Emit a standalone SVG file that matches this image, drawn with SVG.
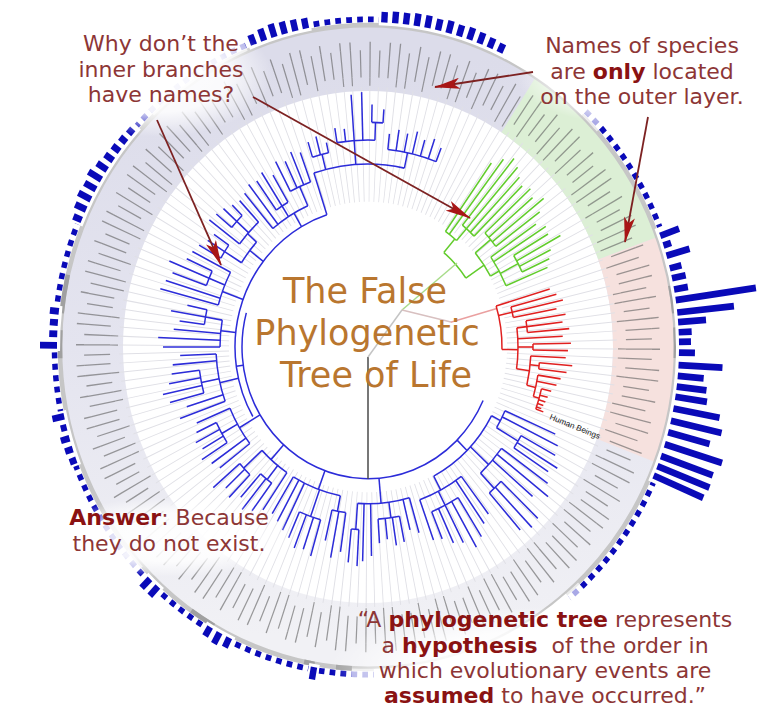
<svg xmlns="http://www.w3.org/2000/svg" width="777" height="719" viewBox="0 0 777 719">
<style>
.b{fill:none;stroke:#2c2cd9;stroke-width:1.5}
.g{fill:none;stroke:#62cc2c;stroke-width:1.5}
.r{fill:none;stroke:#e02020;stroke-width:1.5}
.bars rect{fill:#0a0ab8}
.cov{fill:none;stroke:#fff;stroke-width:11}
.fade{fill:none;stroke:#fff;stroke-opacity:.65;stroke-width:11}
.gr{fill:none;stroke:#a0a0a0;stroke-width:4.5}
.t{font-family:"DejaVu Sans",Verdana,sans-serif;font-size:22px;fill:#8d3636;text-anchor:middle}
.k{font-weight:bold;fill:#8a1212}
.title{font-family:"DejaVu Sans",Verdana,sans-serif;font-size:35px;fill:#b9762f;text-anchor:middle}
.arr{stroke:#7d2222;stroke-width:1.8;fill:none;marker-end:url(#ah)}
</style>
<defs>
<linearGradient id="bandg" x1="0" y1="0" x2="0" y2="1">
<stop offset="0" stop-color="#dcdcea"/><stop offset=".5" stop-color="#e4e4ef"/><stop offset="1" stop-color="#f1f1f5"/>
</linearGradient>
<radialGradient id="glow">
<stop offset="0" stop-color="#fff" stop-opacity=".95"/><stop offset=".6" stop-color="#fff" stop-opacity=".85"/><stop offset="1" stop-color="#fff" stop-opacity="0"/>
</radialGradient>
<marker id="ah" viewBox="0 0 26 11" refX="25" refY="5.5" markerWidth="26" markerHeight="11" markerUnits="userSpaceOnUse" orient="auto">
<path d="M0 0L26 5.5L0 11L6 5.5Z" fill="#a81616"/>
</marker>
</defs>
<rect width="777" height="719" fill="#fff"/>
<g id="ring" transform="translate(368 347) scale(1 1.045)">
<circle r="276.5" fill="none" stroke="url(#bandg)" stroke-width="63"/>
<circle r="276.5" fill="none" stroke="#dcefd5" stroke-width="63" pathLength="360" stroke-dasharray="37 360" transform="rotate(-57)"/>
<circle r="276.5" fill="none" stroke="#f6e1de" stroke-width="63" pathLength="360" stroke-dasharray="41 360" transform="rotate(-20)"/>
<g transform="rotate(0.3)" fill="none">
<circle r="194" stroke="#e0e0e6" stroke-width="110" pathLength="360" stroke-dasharray="0.26 1.74"/>
<circle r="271" stroke="#5e5e5e" stroke-opacity=".6" stroke-width="26" pathLength="360" stroke-dasharray="0.26 1.74"/>
<circle r="254" stroke="#5e5e5e" stroke-opacity=".6" stroke-width="8" pathLength="360" stroke-dasharray="0.26 1.74 0.26 1.74 0 2 0.26 1.74 0 2 0 2"/>
<circle r="288" stroke="#5e5e5e" stroke-opacity=".6" stroke-width="8" pathLength="360" stroke-dasharray="0.26 1.74 0 2 0.26 1.74 0.26 1.74 0 2"/>
</g>
<circle r="308" fill="none" stroke="#c6c6c6" stroke-width="4.5"/>
<g class="gr">
<circle r="308" pathLength="360" stroke-dasharray="5 360" transform="rotate(178)"/>
<circle r="308" pathLength="360" stroke-dasharray="7 360" transform="rotate(186)"/>
<circle r="308" pathLength="360" stroke-dasharray="5 360" transform="rotate(-11)"/>
<circle r="308" pathLength="360" stroke-dasharray="5.5 360" transform="rotate(-3.5)"/>
<circle r="308" pathLength="360" stroke-dasharray="5 360" transform="rotate(120)"/>
<circle r="308" pathLength="360" stroke-dasharray="2 360" transform="rotate(100)"/>
<circle r="308" pathLength="360" stroke-dasharray="3 360" transform="rotate(93)"/>
</g>
<circle r="313.5" fill="none" stroke="#0a0ab8" stroke-width="5.5" pathLength="360" stroke-dasharray="1.05 0.95"/>
<g class="cov">
<circle r="313.5" pathLength="360" stroke-dasharray="18 360" transform="rotate(296)"/>
<circle r="313.5" pathLength="360" stroke-dasharray="39 360" transform="rotate(50)"/>
<circle r="313.5" pathLength="360" stroke-dasharray="46 360" transform="rotate(-21.5)"/>
<circle r="313.5" pathLength="360" stroke-dasharray="20.5 360" transform="rotate(202)"/>
<circle r="313.5" pathLength="360" stroke-dasharray="12 360" transform="rotate(247.5)"/>
<circle r="313.5" pathLength="360" stroke-dasharray="24.5 360" transform="rotate(272)"/>
<circle r="313.5" pathLength="360" stroke-dasharray="2 360" transform="rotate(99)"/>
<circle r="313.5" pathLength="360" stroke-dasharray="6 360" transform="rotate(115.5)"/>
<circle r="313.5" pathLength="360" stroke-dasharray="4 360" transform="rotate(131.5)"/>
<circle r="313.5" pathLength="360" stroke-dasharray="10 360" transform="rotate(158.7)"/>
<circle r="313.5" pathLength="360" stroke-dasharray="8 360" transform="rotate(179.3)"/>
</g>
<g class="fade">
<circle r="313.5" pathLength="360" stroke-dasharray="21 360" transform="rotate(226)"/>
<circle r="313.5" pathLength="360" stroke-dasharray="4 360" transform="rotate(314)"/>
<circle r="313.5" pathLength="360" stroke-dasharray="3 360" transform="rotate(47)"/>
<circle r="313.5" pathLength="360" stroke-dasharray="4 360" transform="rotate(89)"/>
<circle r="313.5" pathLength="360" stroke-dasharray="4 360" transform="rotate(137)"/>
</g>
<g id="bars" class="bars">
<rect x="311" y="-3.2" height="6.4" width="9" transform="rotate(203)"/><rect x="311" y="-3.2" height="6.4" width="12" transform="rotate(205)"/><rect x="311" y="-3.2" height="6.4" width="14" transform="rotate(207)"/><rect x="311" y="-3.2" height="6.4" width="13" transform="rotate(209)"/><rect x="311" y="-3.2" height="6.4" width="15" transform="rotate(211)"/><rect x="311" y="-3.2" height="6.4" width="12" transform="rotate(213)"/><rect x="311" y="-3.2" height="6.4" width="10" transform="rotate(215)"/><rect x="311" y="-3.2" height="6.4" width="9" transform="rotate(217)"/><rect x="311" y="-3.2" height="6.4" width="8" transform="rotate(219)"/><rect x="311" y="-3.2" height="6.4" width="7" transform="rotate(221)"/>
<rect x="311" y="-3.2" height="6.4" width="10" transform="rotate(248.5)"/><rect x="311" y="-3.2" height="6.4" width="12" transform="rotate(250.5)"/><rect x="311" y="-3.2" height="6.4" width="13" transform="rotate(252.5)"/><rect x="311" y="-3.2" height="6.4" width="12" transform="rotate(254.5)"/><rect x="311" y="-3.2" height="6.4" width="11" transform="rotate(256.5)"/><rect x="311" y="-3.2" height="6.4" width="10" transform="rotate(258.5)"/>
<rect x="311" y="-3.2" height="6.4" width="10" transform="rotate(273)"/><rect x="311" y="-3.2" height="6.4" width="11" transform="rotate(275)"/><rect x="311" y="-3.2" height="6.4" width="11" transform="rotate(277)"/><rect x="311" y="-3.2" height="6.4" width="12" transform="rotate(279)"/><rect x="311" y="-3.2" height="6.4" width="12" transform="rotate(281)"/><rect x="311" y="-3.2" height="6.4" width="11" transform="rotate(283)"/><rect x="311" y="-3.2" height="6.4" width="12" transform="rotate(285)"/><rect x="311" y="-3.2" height="6.4" width="11" transform="rotate(287)"/><rect x="311" y="-3.2" height="6.4" width="12" transform="rotate(289)"/><rect x="311" y="-3.2" height="6.4" width="11" transform="rotate(291)"/><rect x="311" y="-3.2" height="6.4" width="10" transform="rotate(293)"/><rect x="311" y="-3.2" height="6.4" width="9" transform="rotate(295)"/>
<rect x="311" y="-3.2" height="6.4" width="20" transform="rotate(-20)"/><rect x="311" y="-3.2" height="6.4" width="8" transform="rotate(-18.2)"/><rect x="311" y="-3.2" height="6.4" width="24" transform="rotate(-16.3)"/><rect x="311" y="-3.2" height="6.4" width="12" transform="rotate(-14)"/><rect x="311" y="-3.2" height="6.4" width="14" transform="rotate(-12.2)"/><rect x="311" y="-3.2" height="6.4" width="14" transform="rotate(-10.2)"/><rect x="311" y="-3.2" height="6.4" width="81" transform="rotate(-8.3)"/><rect x="311" y="-3.2" height="6.4" width="57" transform="rotate(-6.1)"/><rect x="311" y="-3.2" height="6.4" width="28" transform="rotate(-4.4)"/><rect x="311" y="-3.2" height="6.4" width="13" transform="rotate(-2.6)"/><rect x="311" y="-3.2" height="6.4" width="12" transform="rotate(-0.9)"/><rect x="311" y="-3.2" height="6.4" width="16" transform="rotate(1)"/><rect x="311" y="-3.2" height="6.4" width="44" transform="rotate(3.2)"/><rect x="311" y="-3.2" height="6.4" width="26" transform="rotate(5.1)"/><rect x="311" y="-3.2" height="6.4" width="30" transform="rotate(7)"/><rect x="311" y="-3.2" height="6.4" width="32" transform="rotate(8.8)"/><rect x="311" y="-3.2" height="6.4" width="47" transform="rotate(10.9)"/><rect x="311" y="-3.2" height="6.4" width="52" transform="rotate(13.1)"/><rect x="311" y="-3.2" height="6.4" width="43" transform="rotate(15.2)"/><rect x="311" y="-3.2" height="6.4" width="60" transform="rotate(17.4)"/><rect x="311" y="-3.2" height="6.4" width="55" transform="rotate(19.6)"/><rect x="311" y="-3.2" height="6.4" width="56" transform="rotate(21.5)"/><rect x="311" y="-3.2" height="6.4" width="54" transform="rotate(23.3)"/>
<rect x="311" y="-3.2" height="6.4" width="12" transform="rotate(100)"/><rect x="311" y="-3.2" height="6.4" width="10" transform="rotate(116.5)"/><rect x="311" y="-3.2" height="6.4" width="12" transform="rotate(118.5)"/><rect x="311" y="-3.2" height="6.4" width="10" transform="rotate(120.5)"/><rect x="311" y="-3.2" height="6.4" width="12" transform="rotate(132.5)"/><rect x="311" y="-3.2" height="6.4" width="12" transform="rotate(134.5)"/>
<rect x="311" y="-3.2" height="6.4" width="7" transform="rotate(159.7)"/><rect x="311" y="-3.2" height="6.4" width="8" transform="rotate(161.7)"/><rect x="311" y="-3.2" height="6.4" width="9" transform="rotate(163.7)"/><rect x="311" y="-3.2" height="6.4" width="6" transform="rotate(165.7)"/><rect x="311" y="-3.2" height="6.4" width="12" transform="rotate(167.7)"/><rect x="311" y="-3.2" height="6.4" width="17" transform="rotate(180.3)"/><rect x="311" y="-3.2" height="6.4" width="8" transform="rotate(182.3)"/><rect x="311" y="-3.2" height="6.4" width="8" transform="rotate(184.3)"/><rect x="311" y="-3.2" height="6.4" width="9" transform="rotate(186.3)"/>
</g>
</g>
<g id="tree" transform="translate(368 347) scale(1 1.045)">
<g id="clade-blue" class="b">
<circle r="126" pathLength="360" stroke-dasharray="171 360" transform="rotate(24)"/>
<circle r="133" pathLength="360" stroke-dasharray="102 360" transform="rotate(150)"/>
<path transform="rotate(172)" d="M126 0H133"/>
<path transform="rotate(45)" d="M126 0H140"/><circle r="140" pathLength="360" stroke-dasharray="34 360" transform="rotate(28)"/>
<path transform="rotate(28)" d="M140 0H150"/><circle r="150" pathLength="360" stroke-dasharray="7 360" transform="rotate(24)"/><path transform="rotate(24)" d="M150 0H205"/><path transform="rotate(26.5)" d="M150 0H212"/>
<path transform="rotate(31)" d="M150 0H175"/><circle r="175" pathLength="360" stroke-dasharray="4.5 360" transform="rotate(29)"/><path transform="rotate(29)" d="M175 0H214"/><path transform="rotate(31.5)" d="M175 0H222"/><path transform="rotate(33.5)" d="M175 0H216"/>
<path transform="rotate(43)" d="M140 0H165"/><circle r="165" pathLength="360" stroke-dasharray="11 360" transform="rotate(36)"/><path transform="rotate(36)" d="M165 0H222"/><path transform="rotate(38.5)" d="M165 0H230"/><path transform="rotate(41)" d="M165 0H218"/>
<path transform="rotate(47)" d="M165 0H185"/><circle r="185" pathLength="360" stroke-dasharray="5 360" transform="rotate(44)"/><path transform="rotate(44)" d="M185 0H236"/><path transform="rotate(46.5)" d="M185 0H238"/><path transform="rotate(49)" d="M185 0H232"/>
<path transform="rotate(62)" d="M140 0H155"/><circle r="155" pathLength="360" stroke-dasharray="17.5 360" transform="rotate(53)"/><path transform="rotate(53)" d="M155 0H200"/><path transform="rotate(55.5)" d="M155 0H205"/><path transform="rotate(70.5)" d="M155 0H196"/>
<path transform="rotate(63)" d="M155 0H170"/><circle r="170" pathLength="360" stroke-dasharray="10 360" transform="rotate(58)"/><path transform="rotate(58)" d="M170 0H214"/><path transform="rotate(60.5)" d="M170 0H220"/><path transform="rotate(63)" d="M170 0H210"/><path transform="rotate(65.5)" d="M170 0H206"/><path transform="rotate(68)" d="M170 0H198"/>
<path transform="rotate(85)" d="M126 0H150"/><circle r="150" pathLength="360" stroke-dasharray="20 360" transform="rotate(74)"/><path transform="rotate(74)" d="M150 0H185"/><path transform="rotate(76.5)" d="M150 0H180"/><path transform="rotate(89)" d="M150 0H200"/><path transform="rotate(91.5)" d="M150 0H205"/>
<path transform="rotate(82)" d="M150 0H165"/><circle r="165" pathLength="360" stroke-dasharray="7.5 360" transform="rotate(79)"/><path transform="rotate(79)" d="M165 0H190"/><path transform="rotate(81.5)" d="M165 0H192"/><path transform="rotate(84)" d="M165 0H185"/><path transform="rotate(86.5)" d="M165 0H188"/>
<path transform="rotate(94)" d="M150 0H175"/><circle r="175" pathLength="360" stroke-dasharray="2.5 360" transform="rotate(93)"/><path transform="rotate(93)" d="M175 0H210"/><path transform="rotate(95.5)" d="M175 0H207"/>
<path transform="rotate(110)" d="M126 0H145"/><circle r="145" pathLength="360" stroke-dasharray="20 360" transform="rotate(101)"/>
<path transform="rotate(101)" d="M145 0H160"/><circle r="160" pathLength="360" stroke-dasharray="5 360" transform="rotate(98)"/><path transform="rotate(98)" d="M160 0H198"/><path transform="rotate(100.5)" d="M160 0H205"/><path transform="rotate(103)" d="M160 0H190"/>
<path transform="rotate(109.5)" d="M145 0H172"/><circle r="172" pathLength="360" stroke-dasharray="7.5 360" transform="rotate(106)"/><path transform="rotate(106)" d="M172 0H208"/><path transform="rotate(108.5)" d="M172 0H204"/><path transform="rotate(111)" d="M172 0H206"/><path transform="rotate(113.5)" d="M172 0H199"/>
<path transform="rotate(116)" d="M145 0H195"/><path transform="rotate(118.5)" d="M145 0H190"/><path transform="rotate(121)" d="M145 0H186"/>
<path transform="rotate(132)" d="M126 0H145"/><circle r="145" pathLength="360" stroke-dasharray="13 360" transform="rotate(124)"/><path transform="rotate(124)" d="M145 0H188"/>
<path transform="rotate(128.5)" d="M145 0H162"/><circle r="162" pathLength="360" stroke-dasharray="5 360" transform="rotate(126.5)"/><path transform="rotate(126.5)" d="M162 0H195"/><path transform="rotate(129)" d="M162 0H200"/><path transform="rotate(131.5)" d="M162 0H192"/>
<path transform="rotate(137)" d="M145 0H170"/><circle r="170" pathLength="360" stroke-dasharray="5 360" transform="rotate(134)"/><path transform="rotate(134)" d="M170 0H200"/><path transform="rotate(136.5)" d="M170 0H196"/><path transform="rotate(139)" d="M170 0H205"/>
<path transform="rotate(149)" d="M126 0H150"/><circle r="150" pathLength="360" stroke-dasharray="15 360" transform="rotate(142)"/><path transform="rotate(142)" d="M150 0H188"/><path transform="rotate(144.5)" d="M150 0H192"/><path transform="rotate(157)" d="M150 0H186"/>
<path transform="rotate(150.5)" d="M150 0H168"/><circle r="168" pathLength="360" stroke-dasharray="7.5 360" transform="rotate(147)"/><path transform="rotate(147)" d="M168 0H198"/><path transform="rotate(149.5)" d="M168 0H192"/><path transform="rotate(152)" d="M168 0H195"/><path transform="rotate(154.5)" d="M168 0H190"/>
<path transform="rotate(167)" d="M133 0H152"/><circle r="152" pathLength="360" stroke-dasharray="17.5 360" transform="rotate(160)"/><path transform="rotate(160)" d="M152 0H200"/><path transform="rotate(162.5)" d="M152 0H190"/><path transform="rotate(175)" d="M152 0H196"/><path transform="rotate(177.5)" d="M152 0H188"/>
<path transform="rotate(168.5)" d="M152 0H170"/><circle r="170" pathLength="360" stroke-dasharray="7.5 360" transform="rotate(165)"/><path transform="rotate(165)" d="M170 0H205"/><path transform="rotate(167.5)" d="M170 0H210"/><path transform="rotate(170)" d="M170 0H202"/><path transform="rotate(172.5)" d="M170 0H198"/>
<path transform="rotate(186)" d="M133 0H148"/><circle r="148" pathLength="360" stroke-dasharray="10 360" transform="rotate(180)"/><path transform="rotate(180)" d="M148 0H205"/><path transform="rotate(182.5)" d="M148 0H210"/><path transform="rotate(185)" d="M148 0H195"/>
<path transform="rotate(190)" d="M148 0H165"/><circle r="165" pathLength="360" stroke-dasharray="5 360" transform="rotate(187.5)"/><path transform="rotate(187.5)" d="M165 0H190"/><path transform="rotate(190)" d="M165 0H200"/><path transform="rotate(192.5)" d="M165 0H185"/>
<path transform="rotate(200)" d="M133 0H155"/><circle r="155" pathLength="360" stroke-dasharray="12.5 360" transform="rotate(195)"/><path transform="rotate(195)" d="M155 0H215"/><path transform="rotate(197.5)" d="M155 0H212"/><path transform="rotate(207.5)" d="M155 0H198"/>
<path transform="rotate(202.5)" d="M155 0H172"/><circle r="172" pathLength="360" stroke-dasharray="5 360" transform="rotate(200)"/><path transform="rotate(200)" d="M172 0H208"/><path transform="rotate(202.5)" d="M172 0H215"/><path transform="rotate(205)" d="M172 0H200"/>
<path transform="rotate(218)" d="M133 0H150"/><circle r="150" pathLength="360" stroke-dasharray="9.5 360" transform="rotate(212.5)"/>
<path transform="rotate(212.5)" d="M150 0H170"/><circle r="170" pathLength="360" stroke-dasharray="5 360" transform="rotate(210)"/><path transform="rotate(210)" d="M170 0H195"/><path transform="rotate(212.5)" d="M170 0H190"/><path transform="rotate(215)" d="M170 0H188"/>
<path transform="rotate(222)" d="M150 0H162"/><circle r="162" pathLength="360" stroke-dasharray="10 360" transform="rotate(217.5)"/><path transform="rotate(217.5)" d="M162 0H200"/><path transform="rotate(227.5)" d="M162 0H190"/>
<path transform="rotate(222.5)" d="M162 0H178"/><circle r="178" pathLength="360" stroke-dasharray="5 360" transform="rotate(220)"/><path transform="rotate(220)" d="M178 0H198"/><path transform="rotate(222.5)" d="M178 0H196"/><path transform="rotate(225)" d="M178 0H192"/>
<path transform="rotate(240)" d="M133 0H148"/><circle r="148" pathLength="360" stroke-dasharray="16 360" transform="rotate(230)"/><path transform="rotate(230)" d="M148 0H192"/><path transform="rotate(232.5)" d="M148 0H196"/>
<path transform="rotate(237.5)" d="M148 0H160"/><circle r="160" pathLength="360" stroke-dasharray="5 360" transform="rotate(235)"/><path transform="rotate(235)" d="M160 0H194"/><path transform="rotate(237.5)" d="M160 0H198"/><path transform="rotate(240)" d="M160 0H190"/>
<path transform="rotate(246)" d="M148 0H168"/><circle r="168" pathLength="360" stroke-dasharray="7.5 360" transform="rotate(242.5)"/><path transform="rotate(242.5)" d="M168 0H200"/><path transform="rotate(245)" d="M168 0H196"/><path transform="rotate(247.5)" d="M168 0H202"/><path transform="rotate(250)" d="M168 0H198"/>
<path transform="rotate(252)" d="M133 0H175"/><circle r="175" pathLength="360" stroke-dasharray="30 360" transform="rotate(252)"/>
<path transform="rotate(256)" d="M175 0H190"/><circle r="190" pathLength="360" stroke-dasharray="5 360" transform="rotate(253)"/><path transform="rotate(253)" d="M190 0H205"/><path transform="rotate(255.5)" d="M190 0H208"/><path transform="rotate(258)" d="M190 0H200"/>
<path transform="rotate(266)" d="M175 0H198"/><circle r="198" pathLength="360" stroke-dasharray="11 360" transform="rotate(261)"/><path transform="rotate(261)" d="M198 0H212"/><path transform="rotate(263.5)" d="M198 0H210"/><path transform="rotate(266)" d="M198 0H242"/><path transform="rotate(268.5)" d="M198 0H244"/>
<path transform="rotate(272)" d="M198 0H215"/><circle r="215" pathLength="360" stroke-dasharray="3 360" transform="rotate(271)"/><path transform="rotate(271)" d="M215 0H232"/><path transform="rotate(274)" d="M215 0H228"/>
<path transform="rotate(282)" d="M175 0H190"/><circle r="190" pathLength="360" stroke-dasharray="15 360" transform="rotate(276)"/><path transform="rotate(276)" d="M190 0H205"/><path transform="rotate(278.5)" d="M190 0H210"/><path transform="rotate(281)" d="M190 0H208"/><path transform="rotate(283.5)" d="M190 0H212"/><path transform="rotate(286)" d="M190 0H206"/><path transform="rotate(288.5)" d="M190 0H210"/><path transform="rotate(291)" d="M190 0H204"/>
</g>
<g id="clade-green" class="g">
<circle r="118" pathLength="360" stroke-dasharray="16 360" transform="rotate(-50)"/>
<path transform="rotate(-50)" d="M118 0H135"/><circle r="135" pathLength="360" stroke-dasharray="6 360" transform="rotate(-55)"/><path transform="rotate(-55)" d="M135 0H215"/><path transform="rotate(-53)" d="M135 0H225"/>
<path transform="rotate(-49)" d="M135 0H150"/><circle r="150" pathLength="360" stroke-dasharray="6 360" transform="rotate(-51)"/><path transform="rotate(-51)" d="M150 0H232"/><path transform="rotate(-49)" d="M150 0H228"/><path transform="rotate(-47)" d="M150 0H222"/><path transform="rotate(-45)" d="M150 0H218"/>
<path transform="rotate(-34)" d="M118 0H140"/><circle r="140" pathLength="360" stroke-dasharray="11 360" transform="rotate(-40)"/>
<path transform="rotate(-40)" d="M140 0H160"/><circle r="160" pathLength="360" stroke-dasharray="6 360" transform="rotate(-43)"/><path transform="rotate(-43)" d="M160 0H222"/><path transform="rotate(-41)" d="M160 0H218"/><path transform="rotate(-39)" d="M160 0H226"/><path transform="rotate(-37)" d="M160 0H215"/>
<path transform="rotate(-29)" d="M140 0H150"/><circle r="150" pathLength="360" stroke-dasharray="12 360" transform="rotate(-35)"/><path transform="rotate(-35)" d="M150 0H205"/><path transform="rotate(-33)" d="M150 0H212"/><path transform="rotate(-23)" d="M150 0H195"/>
<path transform="rotate(-28)" d="M150 0H170"/><circle r="170" pathLength="360" stroke-dasharray="6 360" transform="rotate(-31)"/><path transform="rotate(-31)" d="M170 0H210"/><path transform="rotate(-29)" d="M170 0H220"/><path transform="rotate(-27)" d="M170 0H205"/><path transform="rotate(-25)" d="M170 0H200"/>
</g>
<g id="clade-red" class="r">
<path transform="rotate(-16)" d="M86 0H134" stroke="#eaa0a0"/>
<circle r="134" pathLength="360" stroke-dasharray="18 360" transform="rotate(-17)"/><path transform="rotate(-17)" d="M134 0H190"/>
<path transform="rotate(-13)" d="M134 0H148"/><circle r="148" pathLength="360" stroke-dasharray="4 360" transform="rotate(-15)"/><path transform="rotate(-15)" d="M148 0H195"/><path transform="rotate(-13)" d="M148 0H200"/><path transform="rotate(-11)" d="M148 0H192"/>
<path transform="rotate(1)" d="M134 0H150"/><circle r="150" pathLength="360" stroke-dasharray="15 360" transform="rotate(-7)"/>
<path transform="rotate(-7)" d="M150 0H160"/><circle r="160" pathLength="360" stroke-dasharray="4 360" transform="rotate(-9)"/><path transform="rotate(-9)" d="M160 0H200"/><path transform="rotate(-7)" d="M160 0H196"/><path transform="rotate(-5)" d="M160 0H202"/>
<path transform="rotate(-3)" d="M150 0H195"/>
<path transform="rotate(0)" d="M150 0H165"/><circle r="165" pathLength="360" stroke-dasharray="2 360" transform="rotate(-1)"/><path transform="rotate(-1)" d="M165 0H203"/><path transform="rotate(1)" d="M165 0H200"/>
<path transform="rotate(8)" d="M150 0H163"/><circle r="163" pathLength="360" stroke-dasharray="10 360" transform="rotate(3)"/><path transform="rotate(3)" d="M163 0H198"/>
<path transform="rotate(6)" d="M163 0H172"/><circle r="172" pathLength="360" stroke-dasharray="2 360" transform="rotate(5)"/><path transform="rotate(5)" d="M172 0H205"/><path transform="rotate(7)" d="M172 0H200"/>
<path transform="rotate(13)" d="M163 0H172"/><circle r="172" pathLength="360" stroke-dasharray="7 360" transform="rotate(9)"/><path transform="rotate(9)" d="M172 0H195"/><path transform="rotate(11)" d="M172 0H192"/>
<path transform="rotate(16)" d="M172 0H178"/><circle r="178" pathLength="360" stroke-dasharray="6.5 360" transform="rotate(13)"/><path transform="rotate(13)" d="M178 0H188"/><path transform="rotate(15)" d="M178 0H186"/><path transform="rotate(16.5)" d="M178 0H185"/><path transform="rotate(17.7)" d="M178 0H184"/><path transform="rotate(18.8)" d="M178 0H183"/><path transform="rotate(19.5)" d="M178 0H186"/>
</g>
</g>
<g id="root" fill="none" stroke-width="1.5">
<path d="M368 357V479" stroke="#4a4a4a"/>
<path d="M368 357L402 310" stroke="#c4c4c4"/>
<path d="M402 310L457 263" stroke="#a8dc8a"/>
<path d="M402 310L451 322" stroke="#d8c0c0"/>
</g>
<text x="549" y="419" transform="rotate(22 549 419)" font-family="Liberation Sans, Arial, sans-serif" font-size="8.2" fill="#222">Human Beings</text>
<g id="glows">
<ellipse cx="160" cy="75" rx="112" ry="62" fill="url(#glow)"/>
<ellipse cx="642" cy="78" rx="125" ry="48" fill="url(#glow)"/>
<ellipse cx="170" cy="537" rx="125" ry="40" fill="url(#glow)"/>
<ellipse cx="545" cy="665" rx="215" ry="58" fill="url(#glow)"/>
</g>
<g id="title"><text class="title"><tspan x="365" y="303">The False</tspan><tspan x="367" y="345">Phylogenetic</tspan><tspan x="376" y="387">Tree of Life</tspan></text></g>
<g id="q-why"><text class="t"><tspan x="161" y="51">Why don’t the</tspan><tspan x="161" y="77">inner branches</tspan><tspan x="161" y="102">have names?</tspan></text></g>
<g id="q-names"><text class="t"><tspan x="642" y="53">Names of species</tspan><tspan x="642" y="79">are <tspan class="k">only</tspan> located</tspan><tspan x="642" y="104">on the outer layer.</tspan></text></g>
<g id="answer"><text class="t"><tspan x="169" y="525"><tspan class="k">Answer</tspan>: Because</tspan><tspan x="169" y="551">they do not exist.</tspan></text></g>
<g id="quote"><text class="t"><tspan x="545" y="627">“A <tspan class="k">phylogenetic tree</tspan> represents</tspan><tspan x="545" y="653">a <tspan class="k">hypothesis</tspan>&#160; of the order in</tspan><tspan x="545" y="678">which evolutionary events are</tspan><tspan x="545" y="703"><tspan class="k">assumed</tspan> to have occurred.”</tspan></text></g>
<g id="connectors">
<path class="arr" d="M157 120L221 265"/>
<path class="arr" d="M253 97L470 218"/>
<path class="arr" d="M533 72L435 87"/>
<path class="arr" d="M648 117L625 242"/>
</g>
</svg>
